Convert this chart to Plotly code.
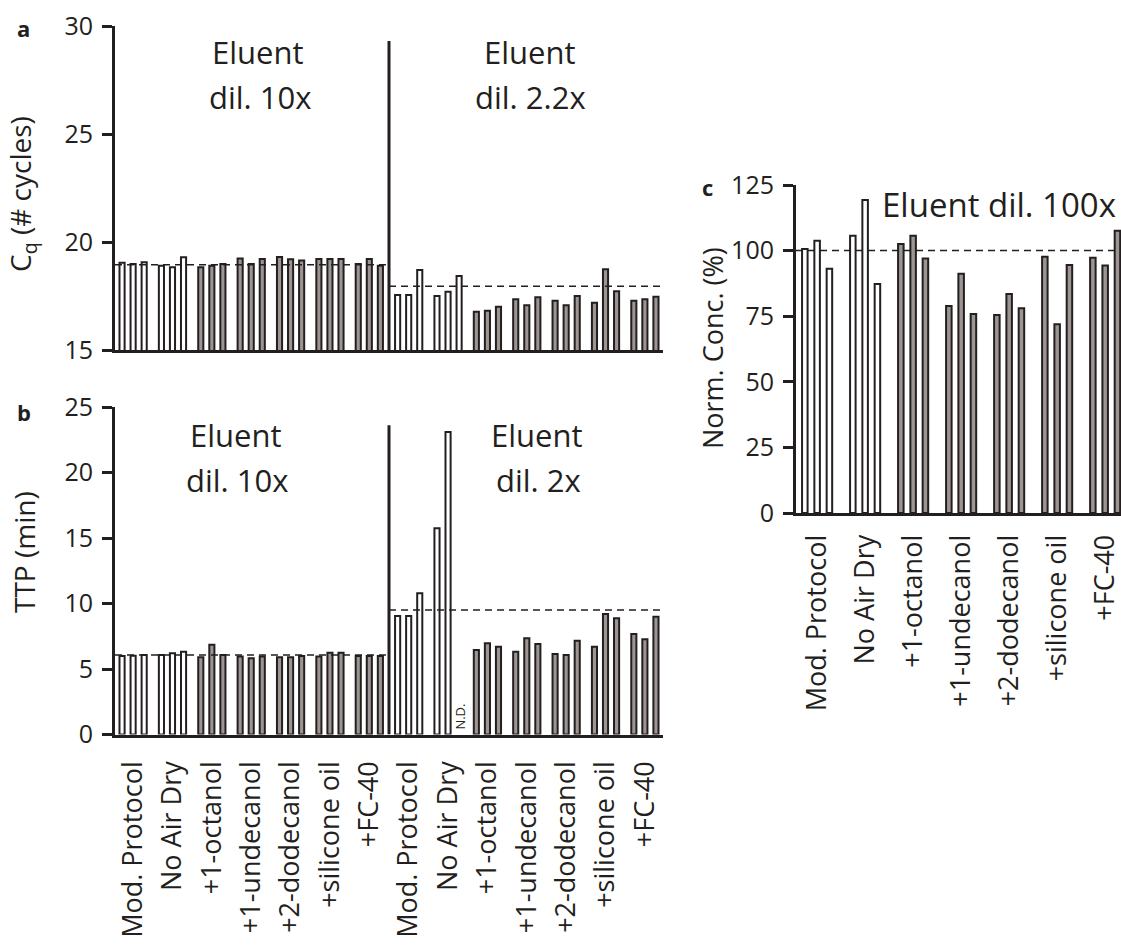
import plotly.graph_objects as go

# ---- data -------------------------------------------------------------
groups = ["Mod. Protocol", "No Air Dry", "+1-octanol", "+1-undecanol",
          "+2-dodecanol", "+silicone oil", "+FC-40"]

# Cq (# cycles), three replicates per condition
cq_dil10 = [[19.04, 18.98, 19.06], [18.90, 18.83, 19.29], [18.83, 18.90, 18.98],
            [19.24, 18.98, 19.21], [19.31, 19.20, 19.14], [19.21, 19.21, 19.21],
            [18.98, 19.21, 18.90]]
cq_dil22 = [[17.55, 17.55, 18.70], [17.50, 17.70, 18.43], [16.77, 16.82, 17.00],
            [17.35, 17.07, 17.44], [17.28, 17.07, 17.50], [17.19, 18.74, 17.72],
            [17.28, 17.35, 17.47]]
cq_ref = [18.95, 17.95]

# TTP (min); None = not detected
ttp_dil10 = [[6.00, 6.02, 6.07], [6.07, 6.20, 6.32], [5.90, 6.86, 6.07],
             [5.95, 5.82, 5.95], [5.90, 5.90, 6.00], [5.95, 6.25, 6.25],
             [6.00, 6.00, 6.00]]
ttp_dil2 = [[9.05, 9.05, 10.78], [15.74, 23.10, None], [6.45, 6.96, 6.70],
            [6.32, 7.34, 6.90], [6.14, 6.07, 7.16], [6.70, 9.20, 8.87],
            [7.67, 7.27, 8.99]]
ttp_ref = [6.07, 9.5]

# Normalised concentration (%), eluent diluted 100x
conc = [[100.6, 103.8, 93.1], [105.7, 119.3, 87.3], [102.5, 105.7, 97.0],
        [78.9, 91.2, 75.8], [75.5, 83.5, 78.0], [97.7, 71.9, 94.5],
        [97.3, 94.3, 107.6]]
conc_ref = 100

# ---- style ------------------------------------------------------------
FONT = "Open Sans"
INK = "#231f20"
GRAY = "#9d9591"
W, H = 1121, 945
OPEN_GROUPS = {"Mod. Protocol", "No Air Dry"}


def fills(names):
    return ["white" if n in OPEN_GROUPS else GRAY for n in names]


def px_x(p):
    return p / W


def px_y(p):
    return 1 - p / H


fig = go.Figure()


def add_bars(values, names, xa, ya, width, step):
    for r in range(3):
        fig.add_trace(go.Bar(
            x=list(range(len(values))),
            y=[v[r] for v in values],
            width=width,
            offset=(r - 1) * step - width / 2,
            marker=dict(color=fills(names), line=dict(color=INK, width=2)),
            xaxis=xa, yaxis=ya, showlegend=False, hoverinfo="skip",
        ))


names_ab = groups + groups
add_bars(cq_dil10 + cq_dil22, names_ab, "x", "y", 0.13, 0.281)
add_bars(ttp_dil10 + ttp_dil2, names_ab, "x2", "y2", 0.13, 0.281)
add_bars(conc, groups, "x3", "y3", 0.115, 0.256)

AB_RANGE = [-0.46, 13.46]
C_RANGE = [-0.44, 6.33]

axis_common = dict(showline=True, linewidth=3, linecolor=INK, showgrid=False,
                   zeroline=False, automargin=False,
                   tickfont=dict(family=FONT, size=25, color=INK))
yaxis_common = dict(axis_common, ticks="outside", ticklen=10, tickwidth=3,
                    tickcolor=INK, ticklabelstandoff=4)
xlabel_font = dict(family=FONT, size=27, color=INK)

fig.update_layout(
    template="none",
    width=W, height=H, margin=dict(l=0, r=0, t=0, b=0, pad=0),
    paper_bgcolor="white", plot_bgcolor="white", barmode="overlay",
    font=dict(family=FONT, color=INK),
    xaxis=dict(axis_common, domain=[px_x(115), px_x(663)], range=AB_RANGE,
               showticklabels=False, ticks="", anchor="y"),
    yaxis=dict(yaxis_common, domain=[px_y(350), px_y(26)], range=[15, 30],
               tickvals=[15, 20, 25, 30], anchor="x"),
    xaxis2=dict(axis_common, domain=[px_x(115), px_x(663)], range=AB_RANGE,
                tickvals=list(range(14)), ticktext=names_ab, tickangle=-90,
                tickfont=xlabel_font, ticks="", ticklabelstandoff=13,
                ticklabeloverflow="allow", anchor="y2"),
    yaxis2=dict(yaxis_common, domain=[px_y(734.5), px_y(407)], range=[0, 25],
                tickvals=[0, 5, 10, 15, 20, 25], anchor="x2"),
    xaxis3=dict(axis_common, domain=[px_x(796), 1], range=C_RANGE,
                tickvals=list(range(7)), ticktext=groups, tickangle=-90,
                tickfont=xlabel_font, ticks="", ticklabelstandoff=8,
                ticklabeloverflow="allow", anchor="y3"),
    yaxis3=dict(yaxis_common, domain=[px_y(513), px_y(185)], range=[0, 125],
                tickvals=[0, 25, 50, 75, 100, 125], anchor="x3"),
)

# reference (dashed) lines and the dilution divider
dash = dict(color=INK, width=1.5, dash="7px,5px")
shapes = [
    dict(type="line", xref="x", yref="y", x0=AB_RANGE[0], x1=6.5,
         y0=cq_ref[0], y1=cq_ref[0], line=dash),
    dict(type="line", xref="x", yref="y", x0=6.5, x1=13.6,
         y0=cq_ref[1], y1=cq_ref[1], line=dash),
    dict(type="line", xref="x2", yref="y2", x0=AB_RANGE[0], x1=6.5,
         y0=ttp_ref[0], y1=ttp_ref[0], line=dash),
    dict(type="line", xref="x2", yref="y2", x0=6.5, x1=13.6,
         y0=ttp_ref[1], y1=ttp_ref[1], line=dash),
    dict(type="line", xref="x3", yref="y3", x0=C_RANGE[0], x1=C_RANGE[1],
         y0=conc_ref, y1=conc_ref, line=dash),
    dict(type="line", xref="x", yref="y", x0=6.5, x1=6.5, y0=15, y1=29.3,
         line=dict(color=INK, width=3)),
    dict(type="line", xref="x2", yref="y2", x0=6.5, x1=6.5, y0=0, y1=23.6,
         line=dict(color=INK, width=3)),
]
for s in shapes:
    s["layer"] = "above"
    fig.add_shape(s)


def label(text, x, y, size=31, angle=0, bold=False, xanchor="center"):
    fig.add_annotation(
        text=f"<b>{text}</b>" if bold else text,
        x=px_x(x), y=px_y(y), xref="paper", yref="paper",
        xanchor=xanchor, yanchor="middle", textangle=angle, showarrow=False,
        font=dict(family=FONT, size=size, color=INK))


# panel letters
label("a", 23, 28, size=22, bold=True)
label("b", 24, 412, size=22, bold=True)
label("c", 707, 187, size=22, bold=True)

# axis titles
label("C<sub>q</sub> (# cycles)", 22, 194, size=28, angle=-90)
label("TTP (min)", 24, 552, size=28, angle=-90)
label("Norm. Conc. (%)", 712, 348, size=27, angle=-90)

# dilution captions
label("Eluent", 258, 52)
label("dil. 10x", 260, 97)
label("Eluent", 530, 52)
label("dil. 2.2x", 530, 97)
label("Eluent", 236, 435)
label("dil. 10x", 237, 480)
label("Eluent", 537, 435)
label("dil. 2x", 538, 480)
label("Eluent dil. 100x", 999, 204, size=33)

# not-detected replicate
fig.add_annotation(text="N.D.", x=8 + 0.281, y=0, xref="x2", yref="y2",
                   yanchor="bottom", xanchor="center", textangle=-90,
                   showarrow=False, yshift=3,
                   font=dict(family=FONT, size=13, color=INK))

fig.write_html("out.html")
